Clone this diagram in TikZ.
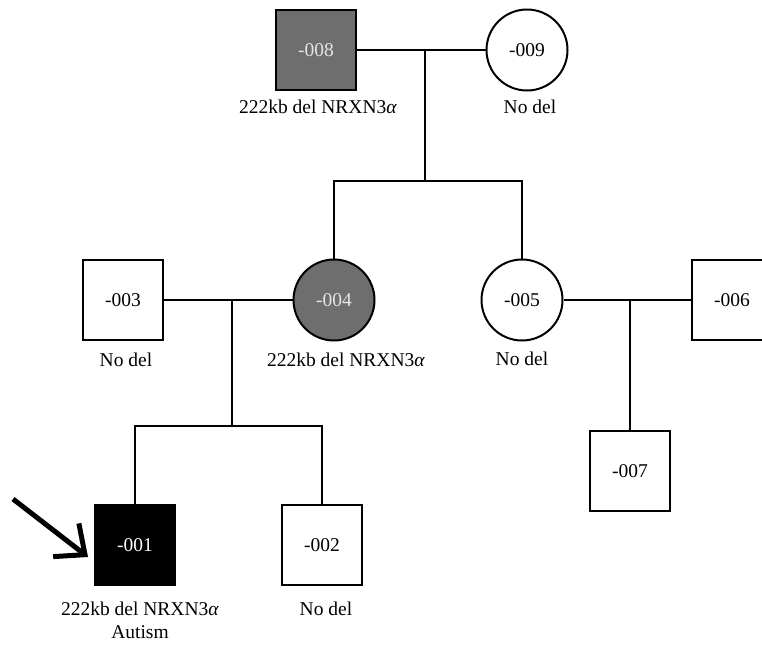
\documentclass[tikz,border=0pt]{standalone}
\usepackage{fontspec}
\setmainfont{Liberation Serif}
\usetikzlibrary{arrows.meta}

\tikzset{
  male/.style={draw=black,line width=2pt,minimum size=80pt,inner sep=0pt,fill=white},
  female/.style={draw=black,line width=2pt,circle,minimum size=81pt,inner sep=0pt,fill=white},
  carrier/.style={fill=black!57,text=black!10},
  affected/.style={fill=black,text=white},
  note/.style={align=center,inner sep=0pt},
  link/.style={line width=1.5pt}
}

\begin{document}
\begin{tikzpicture}[x=1pt,y=-1pt,font=\fontsize{19.5}{23}\selectfont]
    \useasboundingbox (0,0) rectangle (762,646);
    \clip (0,0) rectangle (762,646);
    % first generation
    \node[male,carrier] (p008) at (316,50) {-008};
    \node[female] (p009) at (527,50) {-009};
    \node[note] (l008) at (318,107) {222kb del NRXN3\textit{α}};
    \node[note] (l009) at (530,107) {No del};
    % second generation
    \node[male] (p003) at (123,300) {-003};
    \node[female,carrier] (p004) at (334,300) {-004};
    \node[female] (p005) at (522,300) {-005};
    \node[male] (p006) at (732,300) {-006};
    \node[note] (l003) at (126,360) {No del};
    \node[note] (l004) at (346,360) {222kb del NRXN3\textit{α}};
    \node[note] (l005) at (522,359) {No del};
    % third generation
    \node[male,affected] (p001) at (135,545) {-001};
    \node[male] (p002) at (322,545) {-002};
    \node[male] (p007) at (630,471) {-007};
    \node[note] (l001) at (140,620) {222kb del NRXN3\textit{α}\\Autism};
    \node[note] (l002) at (326,609) {No del};
    % lines of descent
    \coordinate (c1) at (425,50);
    \coordinate (s1) at (425,181);
    \coordinate (c2) at (232,300);
    \coordinate (s2) at (232,426);
    \coordinate (c3) at (630,300);
    \draw[link] (p008) -- (p009);
    \draw[link] (c1) -- (s1);
    \draw[link] (p004.north) |- (s1) -| (p005.north);
    \draw[link] (p003) -- (p004);
    \draw[link] (c2) -- (s2);
    \draw[link] (p001.north) |- (s2) -| (p002.north);
    \draw[link] (p005) -- (p006);
    \draw[link] (c3) -- (p007.north);
    % proband
    \coordinate (arr) at (13,499);
    \draw[line width=5pt,-{Straight Barb[length=24pt,width=42pt]}] (arr) -- ([shift={(-6,12)}]p001.west);
\end{tikzpicture}
\end{document}
